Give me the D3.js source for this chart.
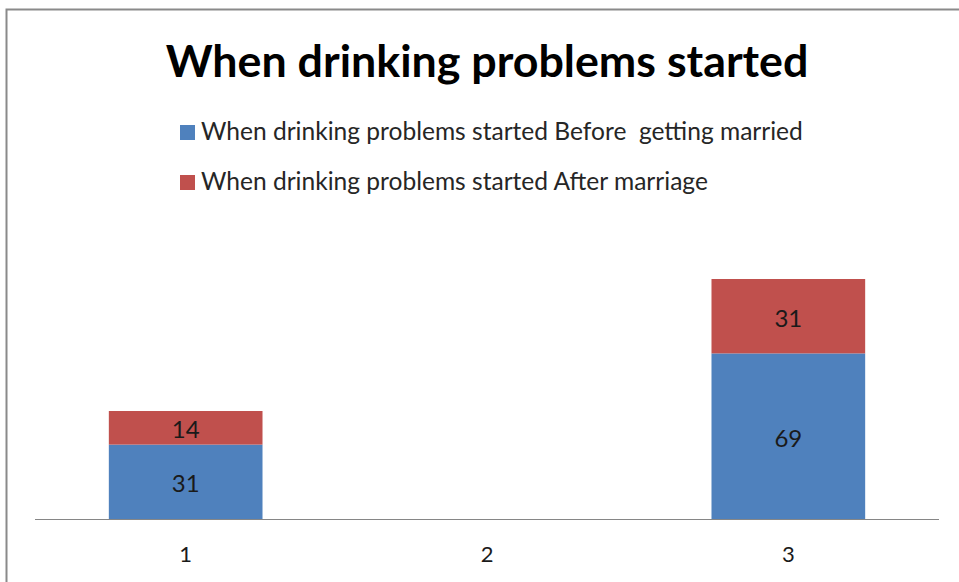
<!DOCTYPE html>
<html>
<head>
<meta charset="utf-8">
<script src="https://cdn.jsdelivr.net/npm/d3@7"></script>
<style>
  html, body { margin: 0; padding: 0; background: #fff; overflow: hidden; }
  svg { display: block; }
</style>
</head>
<body>
<svg id="chart" width="959" height="582"></svg>
<script>
// Chart data
const categories = ["1", "2", "3"];
const seriesNames = [
  "When drinking problems started Before  getting married",
  "When drinking problems started After marriage"
];
const beforeMarriage = [31, 0, 69];
const afterMarriage = [14, 0, 31];
const titleText = "When drinking problems started";

const colors = ["#4F81BD", "#C0504D"];
const font = "Lato, 'Open Sans', 'DejaVu Sans', sans-serif";

const svg = d3.select("#chart");

// Outer chart frame
svg.append("rect")
  .attr("x", 6.5).attr("y", 9.5)
  .attr("width", 1200).attr("height", 1200)
  .attr("fill", "#fff")
  .attr("stroke", "#8a8a8a")
  .attr("stroke-width", 2);

// Title, sized to span its box
const title = svg.append("text")
  .attr("x", 487).attr("y", 77)
  .attr("text-anchor", "middle")
  .attr("font-family", font)
  .attr("font-weight", "bold")
  .attr("font-size", 40)
  .attr("fill", "#000")
  .text(titleText);
const tw = title.node().getComputedTextLength();
title.attr("font-size", 40 * 643 / tw);

// Legend
const legend = svg.append("g");
seriesNames.forEach((name, i) => {
  const y = 125 + i * 50;
  legend.append("rect")
    .attr("x", 180).attr("y", y)
    .attr("width", 15).attr("height", 15)
    .attr("fill", colors[i]);
  legend.append("text")
    .attr("x", 201).attr("y", y + 15)
    .attr("font-family", font)
    .attr("font-size", 22)
    .attr("fill", "#262626")
    .attr("xml:space", "preserve")
    .text(name);
});
// Fit first legend entry width
const lt = legend.selectAll("text").nodes();
const lw = lt[0].getComputedTextLength();
const ls = 22 * 602 / lw;
legend.selectAll("text").attr("font-size", ls);

// Scales
const x = d3.scaleBand()
  .domain(categories)
  .range([35, 939])
  .paddingInner(0.49)
  .paddingOuter(0.245);

const y = d3.scaleLinear()
  .domain([0, 120])
  .range([519, 231]);

// Stacked series
const rows = categories.map((c, i) => ({ cat: c, before: beforeMarriage[i], after: afterMarriage[i] }));
const stack = d3.stack().keys(["before", "after"]);
const layers = stack(rows);

const gBars = svg.append("g");
layers.forEach((layer, li) => {
  const g = gBars.append("g").attr("fill", colors[li]);
  g.selectAll("rect")
    .data(layer.filter(d => d[1] - d[0] > 0))
    .join("rect")
    .attr("x", d => x(d.data.cat))
    .attr("y", d => y(d[1]))
    .attr("width", x.bandwidth())
    .attr("height", d => y(d[0]) - y(d[1]));
  g.selectAll("text")
    .data(layer.filter(d => d[1] - d[0] > 0))
    .join("text")
    .attr("x", d => x(d.data.cat) + x.bandwidth() / 2)
    .attr("y", d => (y(d[0]) + y(d[1])) / 2)
    .attr("dy", "0.44em")
    .attr("text-anchor", "middle")
    .attr("font-family", font)
    .attr("font-size", 24)
    .attr("fill", "#1a1a1a")
    .text(d => d[1] - d[0]);
});

// Category axis
const xAxis = svg.append("g")
  .attr("transform", "translate(0,519)")
  .call(d3.axisBottom(x).tickSize(0).tickPadding(27));
xAxis.select(".domain").attr("stroke", "#868686").attr("stroke-width", 1)
  .attr("d", "M35,0.5H939");
xAxis.selectAll("text")
  .attr("font-family", font)
  .attr("font-size", 22)
  .attr("fill", "#1a1a1a");
</script>
</body>
</html>
